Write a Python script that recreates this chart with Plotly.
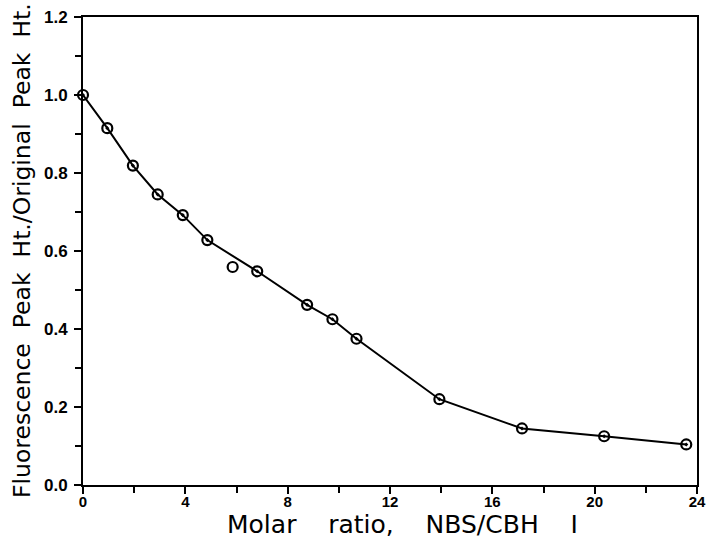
import plotly.graph_objects as go

# Data
ratio = [0.0, 0.95, 1.95, 2.92, 3.9, 4.86, 6.81, 8.76, 9.75, 10.69, 13.93, 17.16, 20.37, 23.58]
peak = [1.0, 0.915, 0.819, 0.745, 0.692, 0.628, 0.548, 0.462, 0.425, 0.375, 0.220, 0.145, 0.125, 0.104]
outlier_ratio = [5.85]
outlier_peak = [0.559]

x_ticks = [0, 4, 8, 12, 16, 20, 24]
y_ticks = [0.0, 0.2, 0.4, 0.6, 0.8, 1.0, 1.2]

nb = "\u00a0"
x_title = f"Molar{nb*4}ratio,{nb*4}NBS/CBH{nb*4}I"
y_title = f"Fluorescence{nb*2}Peak{nb*2}Ht./Original{nb*2}Peak{nb*2}Ht."

fig = go.Figure()
fig.add_trace(go.Scatter(
    x=ratio, y=peak, mode="lines+markers",
    line=dict(color="black", width=2),
    marker=dict(symbol="circle-open-dot", size=10, color="black", line=dict(width=2.2)),
    cliponaxis=False, showlegend=False,
))
fig.add_trace(go.Scatter(
    x=outlier_ratio, y=outlier_peak, mode="markers",
    marker=dict(symbol="circle-open", size=10, color="black", line=dict(width=2.2)),
    cliponaxis=False, showlegend=False,
))

fig.update_layout(
    width=707, height=542,
    margin=dict(l=83, r=10, t=17, b=57),
    paper_bgcolor="white", plot_bgcolor="white",
    font=dict(family="Liberation Sans, Arial, sans-serif", color="black"),
    xaxis=dict(
        range=[0, 24], tickvals=x_ticks, ticktext=[str(v) for v in x_ticks],
        ticks="outside", ticklen=7, tickwidth=2, tickcolor="black",
        minor=dict(dtick=2, ticks="outside", ticklen=6, tickwidth=2, tickcolor="black"),
        showline=True, linecolor="black", linewidth=2, mirror=True,
        showgrid=False, zeroline=False, automargin=False,
        tickfont=dict(family="Liberation Sans, Arial, sans-serif", size=15, color="black", weight="bold"),
        ticklabelstandoff=-5,
    ),
    yaxis=dict(
        range=[0, 1.2], tickvals=y_ticks, ticktext=[f"{v:.1f}" for v in y_ticks],
        ticks="outside", ticklen=7, tickwidth=2, tickcolor="black",
        minor=dict(dtick=0.1, ticks="outside", ticklen=6, tickwidth=2, tickcolor="black"),
        showline=True, linecolor="black", linewidth=2, mirror=True,
        showgrid=False, zeroline=False, automargin=False,
        tickfont=dict(family="Liberation Sans, Arial, sans-serif", size=17, color="black", weight="bold"),
        ticklabelstandoff=3,
    ),
    annotations=[
        dict(text=x_title, xref="paper", yref="paper", x=0.52, y=-(541 - 485) / 468,
             xanchor="center", yanchor="bottom", showarrow=False,
             font=dict(family="DejaVu Sans, sans-serif", size=25, color="black")),
        dict(text=y_title, xref="paper", yref="paper", x=-0.0993, y=0.5,
             xanchor="center", yanchor="middle", showarrow=False, textangle=-90,
             font=dict(family="DejaVu Sans, sans-serif", size=23.5, color="black")),
    ],
)

fig.write_html("out.html")
